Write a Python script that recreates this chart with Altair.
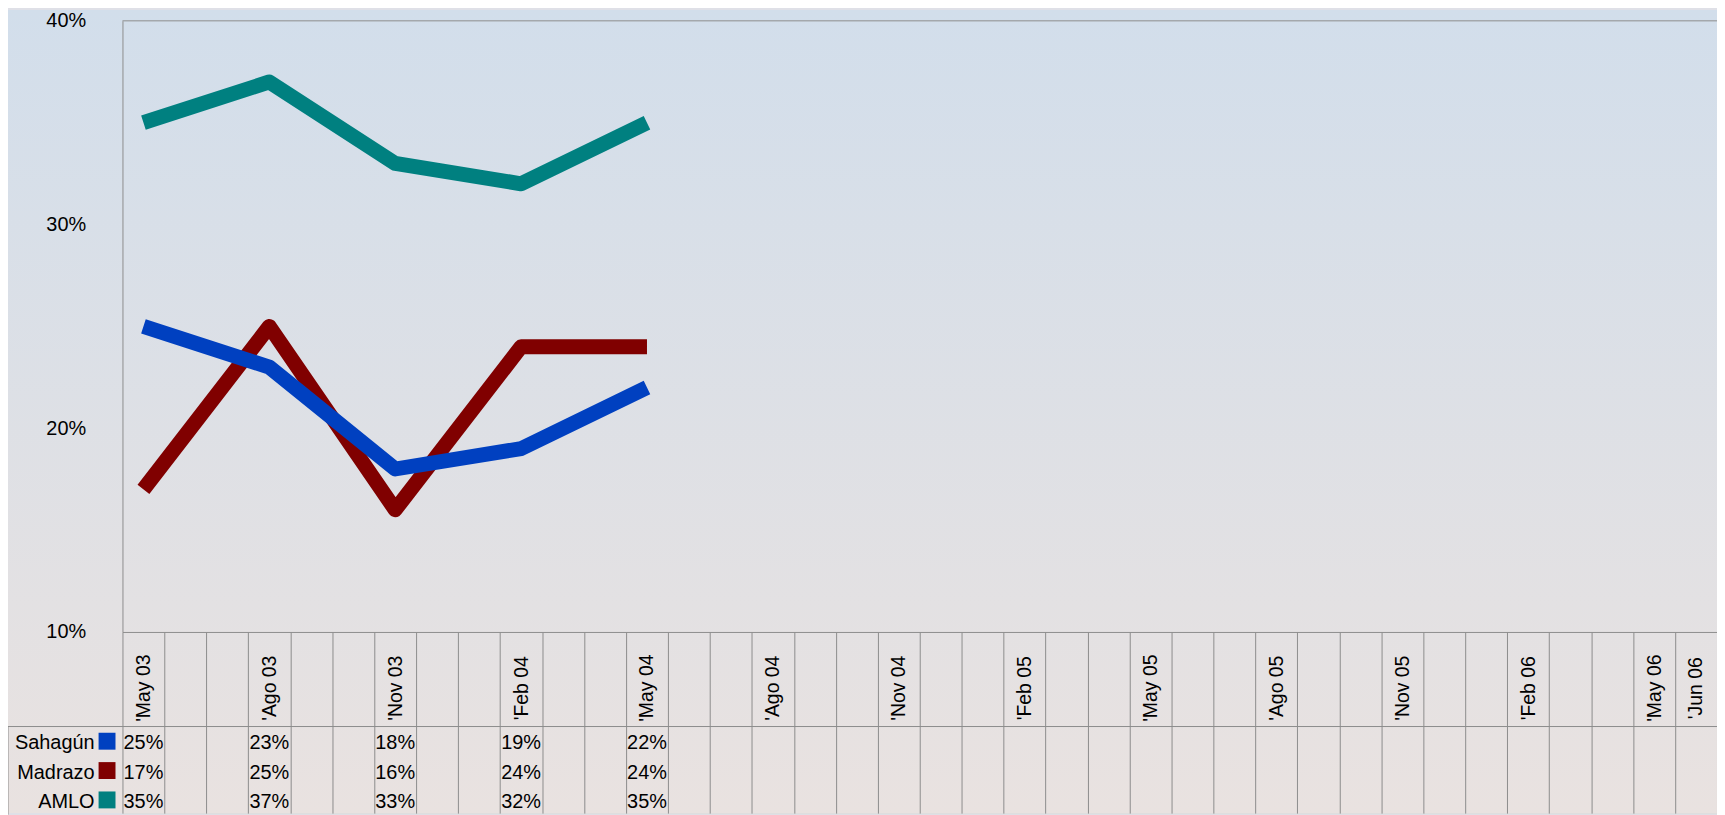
import json
import altair as alt
import pandas as pd

# ---- data ----
col_labels = ["'May 03", "", "", "'Ago 03", "", "", "'Nov 03", "", "", "'Feb 04", "", "",
              "'May 04", "", "", "'Ago 04", "", "", "'Nov 04", "", "", "'Feb 05", "", "",
              "'May 05", "", "", "'Ago 05", "", "", "'Nov 05", "", "", "'Feb 06", "", "",
              "'May 06", "'Jun 06"]
survey_cols = [0, 3, 6, 9, 12]
series = ["Sahagún", "Madrazo", "AMLO"]
colors = ["#0040c0", "#800000", "#008080"]
sahagun = [25, 23, 18, 19, 22]
madrazo = [17, 25, 16, 24, 24]
amlo = [35, 37, 33, 32, 35]

values = {"Sahagún": sahagun, "Madrazo": madrazo, "AMLO": amlo}
rows = []
for ri, s in enumerate(series):
    for c, v in zip(survey_cols, values[s]):
        rows.append({"col": c, "series": s, "row": ri, "value": v, "txt": f"{v}%"})
df = pd.DataFrame(rows)
series_df = pd.DataFrame({"series": series, "row": list(range(len(series)))})
one = pd.DataFrame({"a": [0]})
table_edge = pd.DataFrame({"r0": [0], "r1": [len(series)]})

FONT = "Liberation Sans, Arial, sans-serif"
GRID = "#8c8c8c"
W, H = 1602, 796          # view: from plot left/top to window edge
PLOT_H = 614              # 10%..40% band height
BAND_H = 182              # label band + table height below the plot

label_expr = json.dumps(col_labels, ensure_ascii=False) + "[datum.value]"

def X():
    return alt.X(
        "col:O",
        scale=alt.Scale(type="band", domain=list(range(len(col_labels))), paddingInner=0, paddingOuter=0),
        axis=alt.Axis(orient="bottom", offset=-BAND_H, labelAngle=270, labelAlign="center",
                      labelBaseline="middle", labelPadding=56 - BAND_H, tickBand="extent",
                      tickSize=BAND_H, tickColor=GRID, domainColor=GRID, labelExpr=label_expr,
                      labelFontSize=19.5, labelFont=FONT, labelColor="black", title=None,
                      labelOverlap=False, grid=False, zindex=1),
    )

yscale = alt.Scale(domain=[10, 40], range=[PLOT_H, 0], nice=False, zero=False)
yaxis = alt.Axis(values=[10, 20, 30, 40], labelExpr="datum.value + '%'", ticks=False, grid=False,
                 domainColor=GRID, labelPadding=37, labelFontSize=20, labelFont=FONT,
                 labelColor="black", title=None, zindex=1)
tscale = alt.Scale(domain=[0, 3], range=[709, 797.5], nice=False, zero=False)

bg = alt.Chart(one).mark_rect(
    fill=alt.Gradient(gradient="linear",
                      stops=[alt.GradientStop(offset=0, color="#d2deeb"),
                             alt.GradientStop(offset=1, color="#e9e2e0")],
                      x1=0, x2=0, y1=0, y2=1)
).encode(x=alt.value(-115), x2=alt.value(W), y=alt.value(-11), y2=alt.value(H))

top_rule = alt.Chart(one).mark_rule(color=GRID, strokeWidth=1).encode(
    y=alt.Y(datum=40, type="quantitative", scale=yscale, axis=yaxis))

def line(name, color):
    return alt.Chart(df).transform_filter(alt.datum.series == name).mark_line(
        color=color, strokeWidth=15, strokeCap="butt", strokeJoin="round"
    ).encode(x=X(), y=alt.Y("value:Q", scale=yscale, axis=yaxis))

plot = alt.layer(top_rule, line("AMLO", colors[2]), line("Madrazo", colors[1]), line("Sahagún", colors[0]))

header_rule = alt.Chart(table_edge).mark_rule(color=GRID, strokeWidth=1).encode(
    x=alt.value(-115), x2=alt.value(W),
    y=alt.Y("r0:Q", scale=tscale, axis=None))
left_rule = alt.Chart(table_edge).mark_rule(color=GRID, strokeWidth=1).encode(
    x=alt.value(-115),
    y=alt.Y("r0:Q", scale=tscale, axis=None),
    y2="r1:Q")

cells = alt.Chart(df).transform_calculate(rowpos="datum.row + 0.5").mark_text(
    font=FONT, fontSize=20, color="black", align="center", baseline="middle", dy=2
).encode(x=X(), y=alt.Y("rowpos:Q", scale=tscale, axis=None), text="txt:N")

row_labels = alt.Chart(series_df).transform_calculate(rowpos="datum.row + 0.5").mark_text(
    font=FONT, fontSize=20, color="black", align="right", baseline="middle", dy=2
).encode(x=alt.value(-28), y=alt.Y("rowpos:Q", scale=tscale, axis=None), text="series:N")

swatches = alt.Chart(series_df).transform_calculate(rowpos="datum.row + 0.5").mark_square(
    size=289, opacity=1, filled=True
).encode(x=alt.value(-15.5), y=alt.Y("rowpos:Q", scale=tscale, axis=None),
         color=alt.Color("series:N", scale=alt.Scale(domain=series, range=colors), legend=None))

table = alt.layer(header_rule, left_rule, cells, row_labels, swatches)

chart = alt.layer(bg, plot, table).resolve_scale(y="independent").properties(
    width=W, height=H,
    padding={"left": 115, "top": 11, "right": 0, "bottom": 0},
    autosize=alt.AutoSizeParams(type="none"),
).configure_view(stroke=None).configure(background="#dfe0e7")

chart.save("out.html", embed_options={"renderer": "svg", "actions": False})
